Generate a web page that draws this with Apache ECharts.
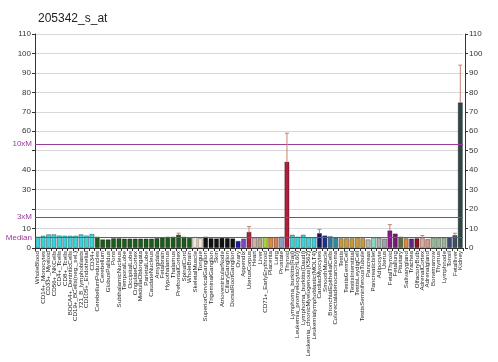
<!DOCTYPE html>
<html><head><meta charset="utf-8">
<script src="https://cdn.jsdelivr.net/npm/echarts@6/dist/echarts.min.js"></script>
<style>html,body{margin:0;padding:0;background:#fff}#c{width:498px;height:362px}</style>
</head><body><div id="c"></div>
<script>
var categories = ["WholeBlood","CD14+_Monocytes","CD33+_Myeloid","CD56+_NKCells","CD4+_Tcells","CD8+_Tcells","BDCA4+_DentriticCells","CD19+_BCells(neg._sel.)","721_B_lymphoblasts","CD105+_Endothelial","CD34+",
"CerebellumPeduncles","Cerebellum","GlobusPallidus","Pons","SubthalamicNucleus","TemporalLobe","OccipitalLobe","CingulateCortex","MedullaOblongata","ParietalLobe","CaudateNucleus","Amygdala","Fetalbrain","Hypothalamus","Thalamus","PrefrontalCortex","SpinalCord","WholeBrain",
"SkeletalMuscle","Tongue","SuperiorCervicalGanglion","TrigeminalGanglion","Skin","AtrioventricularNode","CiliaryGanglion","DorsalRootGanglion",
"Ovary","Appendix","UterusCorpus","Heart","Liver","CD71+_EarlyErythroid","Placenta","Lung","Prostate","Thyroid",
"Lymphoma_burkitts(Raji)","Leukemia_promyelocytic(HL60)","Lymphoma_burkitts(Daudi)","Leukemia_chronicMyelogenous(K562)","Leukemialymphoblastic(MOLT4)","CardiacMyocytes","SmoothMuscle","BronchialEpithelialCells","Colorectaladenocarcinoma",
"Testis","TestisGermCell","TestisInterstitial","TestisLeydigCell","TestisSeminiferousTubule","Pancreas","PancreaticIslet","Adipocyte","Uterus","FetalThyroid","Fetallung","Pituitary","Salivarygland","Trachea","OlfactoryBulb","AdrenalCortex","Adrenalgland","Bonemarrow","Thymus","Lymphnode","Tonsil","Fetalliver","Kidney"];
var values = [5.8,6.3,7.0,7.0,6.4,6.3,6.3,6.3,7.0,6.4,7.2,
5.8,4.4,4.4,5.0,5.0,4.8,4.8,4.8,4.8,4.8,4.8,5.1,5.4,5.8,5.8,6.8,5.8,5.2,
5.6,5.0,5.8,5.0,4.9,5.2,5.1,4.9,
3.6,4.8,8.2,5.4,5.0,5.6,5.4,5.6,5.8,44.3,
6.8,5.8,6.8,5.4,5.4,7.6,6.4,6.0,5.4,
5.0,5.0,5.0,5.4,5.0,4.4,5.4,5.2,4.8,9.0,7.4,5.8,5.0,4.8,5.0,5.0,4.6,5.2,5.2,5.2,5.6,6.6,74.8];
var errors = [0,0,0,0,0,0,0,0,0,0,0,
0,0,0,0,0,0,0,0,0,0,0,0,0,0,0,7.6,0,0,
0,0,0,0,0,0,0,0,
0,0,11.0,0,0,0,0,0,0,59.0,
0,0,0,0,0,9.6,0,0,0,
0,0,0,0,0,0,0,0,0,12.0,0,0,0,0,0,6.4,0,0,0,0,0,7.6,94.0];
var colors = ["#3ed2d8","#3ed2d8","#3ed2d8","#3ed2d8","#3ed2d8","#3ed2d8","#3ed2d8","#3ed2d8","#3ed2d8","#3ed2d8","#3ed2d8",
"#1d5a1d","#1d5a1d","#1d5a1d","#1d5a1d","#1d5a1d","#1d5a1d","#1d5a1d","#1d5a1d","#1d5a1d","#1d5a1d","#1d5a1d","#1d5a1d","#1d5a1d","#1d5a1d","#1d5a1d","#1d5a1d","#1d5a1d","#1d5a1d",
"#f3e7d6","#f3e7d6","#111111","#111111","#111111","#111111","#111111","#111111",
"#1a1aa8","#7a48c0","#a8243e","#cdb0a8","#b8a880","#a6d23a","#e08838","#d8805c","#8c9cc0","#b0203c",
"#3ed2d8","#3ed2d8","#3ed2d8","#3ed2d8","#3ed2d8","#141460","#202e8a","#2e7a98","#2e8ca0",
"#c89a3c","#c89a3c","#c89a3c","#c89a3c","#c89a3c","#b8b8b8","#8ad8c0","#a8b0b0","#a0a0a8","#8a1a8a","#701c70","#5e6e40","#d88a40","#60287a","#8a1420","#e0a898","#d89888","#98b898","#98b898","#98b898","#3c4c74","#405064","#2c4848"];
var median = 5.35;
var leftTicks = [0,10,30,40,60,70,80,90,100,110];

var chart = echarts.init(document.getElementById('c'));
chart.setOption({
  animation:false,
  title:{text:'205342_s_at',left:33,top:8,textStyle:{fontSize:12,fontWeight:'normal',color:'#222',fontFamily:'Arial'}},
  grid:{left:35,right:35,top:34,bottom:114},
  xAxis:{type:'category',data:categories,axisTick:{show:true,length:3,interval:0,lineStyle:{color:'#333'}},
    axisLine:{lineStyle:{color:'#333'}},
    axisLabel:{interval:0,rotate:90,fontSize:6.2,color:'#222',margin:3,fontFamily:'Arial'}},
  yAxis:[{type:'value',min:0,max:110,interval:10,position:'left',
    axisLine:{show:true,lineStyle:{color:'#333'}},axisTick:{show:true,length:3,lineStyle:{color:'#333'}},
    axisLabel:{fontSize:8,color:'#333',margin:4,fontFamily:'Arial',formatter:function(v){return leftTicks.indexOf(v)>=0?v:'';}},
    splitLine:{show:true,lineStyle:{color:'#d8d8d8',width:1}}},
   {type:'value',min:0,max:110,interval:10,position:'right',offset:2,
    axisLine:{show:true,lineStyle:{color:'#333'}},axisTick:{show:true,length:3,lineStyle:{color:'#333'}},
    axisLabel:{fontSize:8,color:'#333',margin:4,fontFamily:'Arial'},splitLine:{show:false}}],
  series:[
   {type:'line',data:[],z:1,
    markLine:{silent:true,symbol:'none',lineStyle:{color:'#9a3a9a',width:1,type:'solid'},
      label:{position:'start',color:'#9a3a9a',fontSize:8,fontFamily:'Arial',distance:3},
      data:[{yAxis:median,label:{formatter:'Median'}},{yAxis:median*3,label:{formatter:'3xM'}},{yAxis:median*10,label:{formatter:'10xM'}}]}},
   {type:'bar',z:3,data:values.map(function(v,i){return {value:v,itemStyle:{color:colors[i]}};}),barCategoryGap:'12%',
    itemStyle:{borderColor:'rgba(0,0,0,0.55)',borderWidth:0.6}},
   {type:'custom',renderItem:function(params,api){
      var i=api.value(0), e=api.value(1), v=api.value(2);
      if(!e) return null;
      var p0=api.coord([i,v]), p1=api.coord([i,e]);
      var st={stroke:'#c88070',lineWidth:1};
      return {type:'group',children:[
        {type:'line',shape:{x1:p0[0],y1:p0[1],x2:p1[0],y2:p1[1]},style:st},
        {type:'line',shape:{x1:p1[0]-2,y1:p1[1],x2:p1[0]+2,y2:p1[1]},style:st}]};
    },data:errors.map(function(e,i){return [i,e,values[i]];}),z:5}
  ]
});
</script></body></html>
